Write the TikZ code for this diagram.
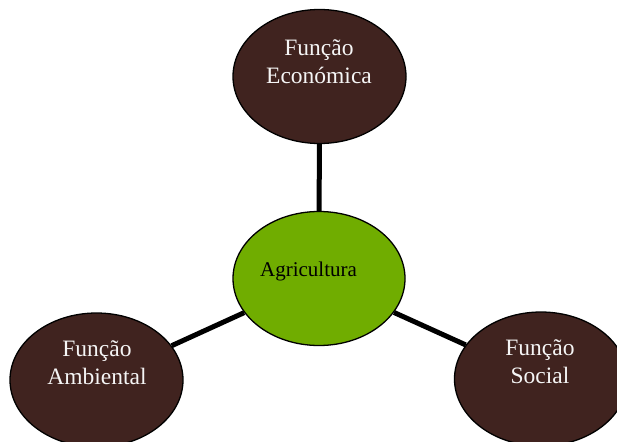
\documentclass[tikz,border=0pt]{standalone}
\usepackage{fontspec}
\setmainfont{Liberation Serif}
\usetikzlibrary{shapes.geometric,calc}
\definecolor{brownfill}{RGB}{64,35,31}
\definecolor{greenfill}{RGB}{112,173,0}
\definecolor{lighttext}{RGB}{245,245,245}
\begin{document}
\begin{tikzpicture}[x=1pt,y=-1pt,
  blob/.style={ellipse,draw=black,line width=1.3pt,inner sep=0pt,
    minimum width=173pt,minimum height=134pt},
  func/.style={blob,fill=brownfill},
  core/.style={blob,fill=greenfill,minimum width=172pt},
  ftext/.style={align=center,text=lighttext,inner sep=0pt,
    font=\fontsize{23.5}{28}\selectfont},
  ctext/.style={text=black,inner sep=0pt,font=\fontsize{21}{25}\selectfont},
  link/.style={line width=5pt,black}]
\useasboundingbox (0,0) rectangle (617,441);
\clip (0,0) rectangle (617,441);
\node[func] (eco) at (319.5,76.5) {};
\node[core] (agr) at (319,278.5) {};
\node[func] (amb) at (96.5,380) {};
\node[func] (soc) at (541,379) {};
\draw[link] (eco) -- (agr);
\draw[link] (agr) -- (amb);
\draw[link] (agr) -- (soc);
\node[ftext] (ecot) at (319,62) {Função\\Económica};
\node[ftext] (ambt) at (97,363) {Função\\Ambiental};
\node[ftext] (soct) at (540,362) {Função\\Social};
\node[ctext] (agrt) at (308.5,271) {Agricultura};
\end{tikzpicture}
\end{document}
